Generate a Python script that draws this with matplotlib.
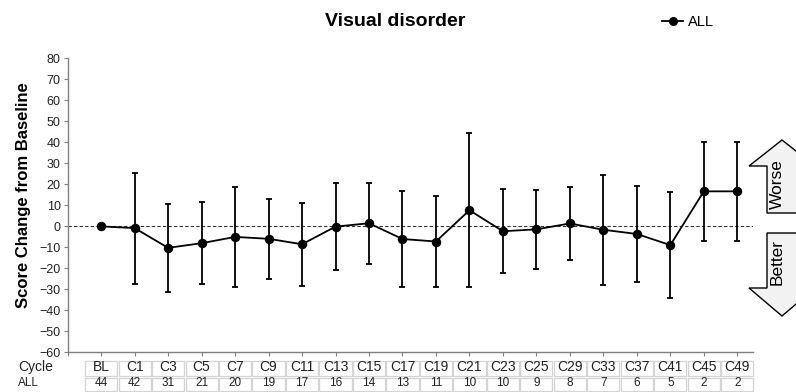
import numpy as np
import matplotlib.pyplot as plt
from matplotlib.patches import Rectangle, Polygon
from matplotlib.lines import Line2D
from matplotlib.transforms import blended_transform_factory

plt.rcParams['font.family'] = ['Liberation Sans', 'DejaVu Sans']

# cycles, mean change from baseline, standard deviation, patients per cycle
cycles = ['BL', 'C1', 'C3', 'C5', 'C7', 'C9', 'C11', 'C13', 'C15', 'C17',
          'C19', 'C21', 'C23', 'C25', 'C29', 'C33', 'C37', 'C41', 'C45', 'C49']
mean_all = [0.0, -0.8, -10.2, -8.0, -5.0, -5.9, -8.5, -0.1, 1.5, -6.0,
            -7.2, 7.7, -2.3, -1.4, 1.4, -1.6, -3.6, -8.9, 16.7, 16.7]
sd_all = [0.0, 26.4, 21.0, 19.4, 24.0, 19.0, 19.8, 20.7, 19.3, 22.9,
          21.7, 36.6, 20.1, 18.8, 17.4, 26.2, 22.9, 25.4, 23.6, 23.6]
n_all = [44, 42, 31, 21, 20, 19, 17, 16, 14, 13, 11, 10, 10, 9, 8, 7, 6, 5, 2, 2]

x = np.arange(len(cycles))

fig = plt.figure(figsize=(7.96, 3.92), dpi=100)
ax = fig.add_axes([0.085, 0.101, 0.861, 0.75])

ax.axhline(0, color='#333333', lw=0.8, ls=(0, (3, 2)), zorder=1)
ax.errorbar(x, mean_all, yerr=sd_all, fmt='-o', color='black', lw=1.3,
            ms=5.8, elinewidth=1.3, capsize=2, capthick=1.3, zorder=3)

ax.set_xlim(-1, 19.47)
ax.set_ylim(-60, 80)
ax.set_yticks(np.arange(-60, 81, 10))
ax.set_xticks(np.arange(-1, len(cycles)))
ax.set_xticklabels([])
ax.tick_params(axis='both', direction='out', length=3, color='#808080',
               labelsize=9, labelcolor='#222222', pad=2)
for s in ['top', 'right']:
    ax.spines[s].set_visible(False)
for s in ['left', 'bottom']:
    ax.spines[s].set_color('#808080')
    ax.spines[s].set_linewidth(1)

ax.set_ylabel('Score Change from Baseline', fontsize=12, fontweight='bold')
ax.yaxis.set_label_coords(-0.053, 0.535)
fig.text(0.497, 1 - 22 / 392, 'Visual disorder', ha='center', va='center',
         fontsize=14, fontweight='bold')

handle = Line2D([], [], color='black', lw=1.3, marker='o', ms=5.5)
fig.legend(handles=[handle], labels=['ALL'], loc='center',
           bbox_to_anchor=(0.864, 1 - 22 / 392), frameon=False,
           fontsize=10.5, handlelength=1.5, handletextpad=0.3)

# table of cycles and patient counts under the axis
tr = blended_transform_factory(ax.transData, fig.transFigure)
rows = [(cycles, 1 - 367 / 392, 1 - 375.5 / 392, 1 - 360.5 / 392, 10),
        ([str(v) for v in n_all], 1 - 383.5 / 392, 1 - 390.5 / 392, 1 - 377.5 / 392, 8.5)]
for labels, yc, yb, yt, fs in rows:
    for xi, lab in zip(x, labels):
        ax.add_patch(Rectangle((xi - 0.48, yb), 0.96, yt - yb, transform=tr,
                               fill=False, ec='#d4d4d4', lw=0.9, clip_on=False))
        ax.text(xi, yc, lab, transform=tr, ha='center', va='center',
                fontsize=fs, color='#222222', clip_on=False)
fig.text(18 / 796, 1 - 367 / 392, 'Cycle', ha='left', va='center', fontsize=10, color='#222222')
fig.text(18 / 796, 1 - 383.5 / 392, 'ALL', ha='left', va='center', fontsize=8.5, color='#222222')


def px(pts):
    return [(a / 796, 1 - b / 392) for a, b in pts]


# worse / better arrows on the right margin
cx, hw, sw = 782, 33, 15
worse = px([(cx, 140), (cx + hw, 166), (cx + sw, 166), (cx + sw, 213),
            (cx - sw, 213), (cx - sw, 166), (cx - hw, 166)])
better = px([(cx - sw, 233), (cx + sw, 233), (cx + sw, 288), (cx + hw, 288),
             (cx, 316), (cx - hw, 288), (cx - sw, 288)])
for poly in (worse, better):
    fig.patches.append(Polygon(poly, closed=True, fc='#f2f2f2', ec='black',
                               lw=1, transform=fig.transFigure))
fig.text(777 / 796, 1 - 184 / 392, 'Worse', rotation=90, ha='center', va='center', fontsize=12.5)
fig.text(777 / 796, 1 - 262 / 392, 'Better', rotation=90, ha='center', va='center', fontsize=12.5)

fig.savefig('out.png', dpi=100)
